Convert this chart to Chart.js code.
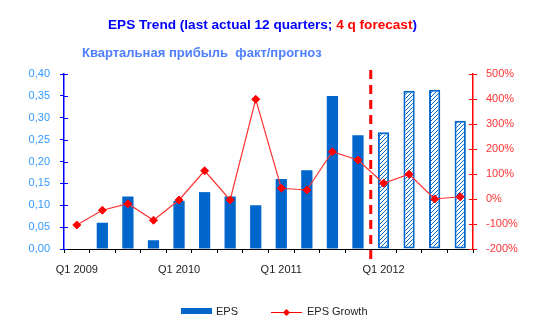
<!DOCTYPE html>
<html lang="en">
<head>
    <meta charset="UTF-8">
    <title>EPS Trend</title>
    <style>
        body { margin: 0; background: #fff; }
        .wrap { position: relative; width: 541px; height: 326px; }
        canvas { position: absolute; left: 0; top: 0; }
        .title {
            position: absolute; left: 108px; top: 17px;
            font: bold 13.6px "Liberation Sans", Arial, sans-serif;
            color: #0000ff; white-space: nowrap;
        }
        .title .red { color: #ff0000; }
        .subtitle {
            position: absolute; left: 82px; top: 45px;
            font: bold 13px "Liberation Sans", Arial, sans-serif;
            color: #4f7fff; white-space: nowrap;
        }
    </style>
    <script src="https://cdn.jsdelivr.net/npm/chart.js"></script>
</head>
<body>
<div class="wrap">
    <canvas id="epsChart" width="541" height="326"></canvas>
    <div class="title">EPS Trend (last actual 12 quarters; <span class="red">4 q forecast</span>)</div>
    <div class="subtitle">Квартальная прибыль&nbsp; факт/прогноз</div>
</div>
<script>
    // quarters Q1 2009 .. Q4 2012
    const quarters = ['Q1 2009', 'Q2 2009', 'Q3 2009', 'Q4 2009',
                      'Q1 2010', 'Q2 2010', 'Q3 2010', 'Q4 2010',
                      'Q1 2011', 'Q2 2011', 'Q3 2011', 'Q4 2011',
                      'Q1 2012', 'Q2 2012', 'Q3 2012', 'Q4 2012'];
    const epsValues = [null, 0.06, 0.12, 0.02, 0.11, 0.13, 0.12, 0.10,
                       0.16, 0.18, 0.35, 0.26, 0.267, 0.362, 0.364, 0.293];
    const growthValues = [-104, -45, -19, -85, -4, 113, -4, 399,
                          43, 36, 189, 156, 63, 99, 0, 9];
    const actualCount = 12;   // the rest is forecast
    const shownTickLabels = ['Q1 2009', 'Q1 2010', 'Q1 2011', 'Q1 2012'];

    const blue = '#0066cc';

    // diagonal hatch for forecast bars
    function makeHatch() {
        const c = document.createElement('canvas');
        c.width = 4; c.height = 4;
        const g = c.getContext('2d');
        g.fillStyle = '#fff';
        g.fillRect(0, 0, 4, 4);
        g.strokeStyle = blue;
        g.lineWidth = 1;
        g.beginPath();
        g.moveTo(0, 4); g.lineTo(4, 0);
        g.moveTo(-1, 1); g.lineTo(1, -1);
        g.moveTo(3, 5); g.lineTo(5, 3);
        g.stroke();
        return g.createPattern(c, 'repeat');
    }
    const hatch = makeHatch();

    // forecast separator, crossing ticks and legend
    const extras = {
        id: 'extras',
        afterDraw(chart) {
            const ctx = chart.ctx;
            const x = chart.scales.x, yL = chart.scales.y, yR = chart.scales.y1;
            const area = chart.chartArea;
            ctx.save();
            // inner half of y ticks
            ctx.lineWidth = 1;
            ctx.strokeStyle = '#0000ff';
            yL.ticks.forEach(t => {
                const py = Math.round(yL.getPixelForValue(t.value)) + 0.5;
                ctx.beginPath(); ctx.moveTo(area.left, py); ctx.lineTo(area.left + 4, py); ctx.stroke();
            });
            ctx.strokeStyle = '#ff0000';
            yR.ticks.forEach(t => {
                const py = Math.round(yR.getPixelForValue(t.value)) + 0.5;
                ctx.beginPath(); ctx.moveTo(area.right - 4, py); ctx.lineTo(area.right, py); ctx.stroke();
            });
            // dashed forecast line
            const sx = (x.getPixelForValue(actualCount - 1) + x.getPixelForValue(actualCount)) / 2;
            ctx.strokeStyle = '#ff0000';
            ctx.lineWidth = 3;
            ctx.setLineDash([9, 6]);
            ctx.beginPath(); ctx.moveTo(sx, 70); ctx.lineTo(sx, 263); ctx.stroke();
            ctx.setLineDash([]);
            // legend
            ctx.fillStyle = blue;
            ctx.fillRect(181, 308, 31, 6);
            ctx.strokeStyle = '#ff0000';
            ctx.lineWidth = 1;
            ctx.beginPath(); ctx.moveTo(271, 312.5); ctx.lineTo(302, 312.5); ctx.stroke();
            ctx.fillStyle = '#ff0000';
            ctx.beginPath();
            ctx.moveTo(286.5, 309); ctx.lineTo(290, 312.5); ctx.lineTo(286.5, 316); ctx.lineTo(283, 312.5);
            ctx.closePath(); ctx.fill();
            ctx.fillStyle = '#222';
            ctx.font = '11px "Liberation Sans", Arial, sans-serif';
            ctx.textBaseline = 'middle';
            ctx.fillText('EPS', 216, 312);
            ctx.fillText('EPS Growth', 307, 312);
            ctx.restore();
        }
    };

    const tickFont = { family: '"Liberation Sans", Arial, sans-serif', size: 11 };

    new Chart(document.getElementById('epsChart'), {
        data: {
            labels: quarters,
            datasets: [{
                type: 'line',
                label: 'EPS Growth',
                data: growthValues,
                yAxisID: 'y1',
                borderColor: '#ff3333',
                borderWidth: 1.2,
                pointStyle: 'rectRot',
                pointRadius: 4,
                pointBackgroundColor: '#ff0000',
                pointBorderColor: '#ff0000',
                pointBorderWidth: 1,
                tension: 0,
                order: 0
            }, {
                type: 'bar',
                label: 'EPS',
                data: epsValues,
                yAxisID: 'y',
                backgroundColor: c => c.dataIndex >= actualCount ? hatch : blue,
                borderColor: blue,
                borderWidth: c => c.dataIndex >= actualCount ? 2 : 0,
                borderSkipped: false,
                barPercentage: 0.44,
                categoryPercentage: 1,
                order: 1
            }]
        },
        options: {
            responsive: false,
            animation: false,
            layout: { padding: { top: 74, left: 0, right: 0, bottom: 0 } },
            plugins: {
                legend: { display: false },
                tooltip: { enabled: false }
            },
            scales: {
                x: {
                    grid: { drawOnChartArea: false, tickLength: 4, color: '#000', offset: true },
                    border: { color: '#000', width: 1 },
                    ticks: {
                        autoSkip: false, maxRotation: 0, padding: 10,
                        color: '#222', font: tickFont,
                        callback: function (v) {
                            const l = this.getLabelForValue(v);
                            return shownTickLabels.includes(l) ? l : '';
                        }
                    },
                    afterFit: s => { s.height = 77; }
                },
                y: {
                    position: 'left',
                    min: 0, max: 0.4,
                    ticks: {
                        stepSize: 0.05, padding: 10, color: '#3399ff', font: tickFont,
                        callback: v => v.toFixed(2).replace('.', ',')
                    },
                    grid: { drawOnChartArea: false, tickLength: 4, color: '#0000ff' },
                    border: { color: '#0000ff', width: 1.5 },
                    afterFit: s => { s.width = 64; }
                },
                y1: {
                    position: 'right',
                    min: -200, max: 500,
                    ticks: {
                        stepSize: 100, padding: 9, color: '#ff3333', font: tickFont,
                        callback: v => v + '%'
                    },
                    grid: { drawOnChartArea: false, tickLength: 4, color: '#ff0000' },
                    border: { color: '#ff0000', width: 1.5 },
                    afterFit: s => { s.width = 68; }
                }
            }
        },
        plugins: [extras]
    });
</script>
</body>
</html>
